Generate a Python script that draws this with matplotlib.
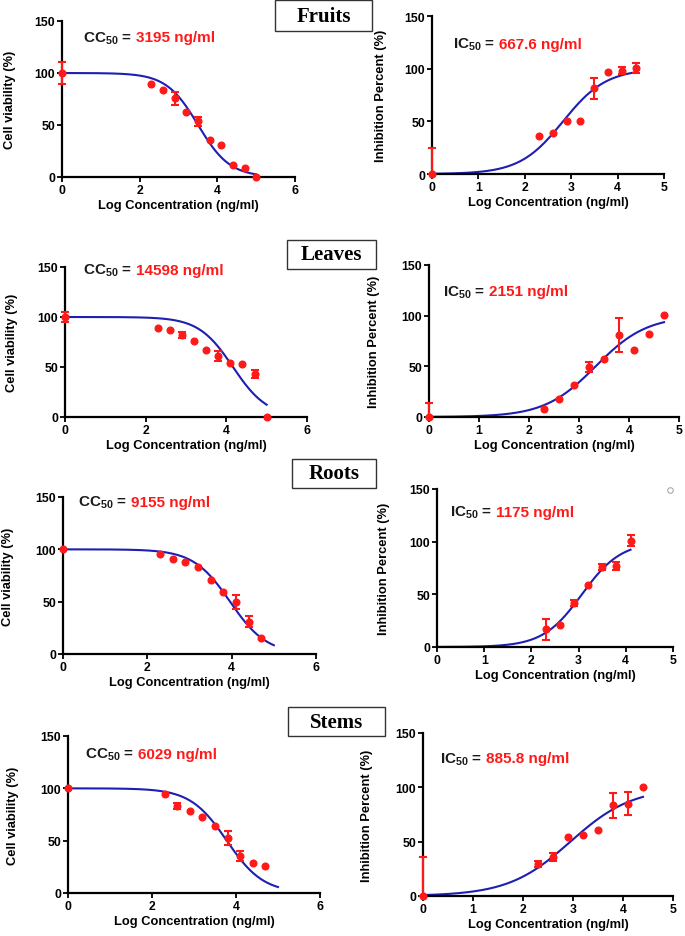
import numpy as np
import matplotlib
matplotlib.use("Agg")
import matplotlib.pyplot as plt
from matplotlib.patches import Rectangle
from matplotlib.lines import Line2D

plt.rcParams['font.family'] = ['Liberation Sans', 'DejaVu Sans']
plt.rcParams['font.weight'] = 'bold'
plt.rcParams['mathtext.fontset'] = 'custom'
plt.rcParams['mathtext.rm'] = 'Liberation Sans'
plt.rcParams['mathtext.it'] = 'Liberation Sans:italic'
plt.rcParams['mathtext.bf'] = 'Liberation Sans:bold'

# ---------------- data ----------------
log_conc = [2.3, 2.6, 2.9, 3.2, 3.5, 3.8, 4.1, 4.4, 4.7, 5.0]

# Fruits
fruits_cc_x = [0] + log_conc
fruits_cc_y = [100, 89, 84, 75.6, 62.5, 53.5, 35.6, 30.4, 11.9, 8.3, 0]
fruits_cc_err = [11, 0, 0, 6, 0, 4, 0, 0, 0, 0, 0]
fruits_cc_label = "3195 ng/ml"
fruits_cc_logc50, fruits_cc_hill = np.log10(3195), 1.06

fruits_ic_x = [0, 2.3, 2.6, 2.9, 3.2, 3.5, 3.8, 4.1, 4.4]
fruits_ic_y = [0, 35.8, 39.3, 50.4, 50.4, 81.5, 96.7, 98, 100.5]
fruits_ic_err = [25, 0, 0, 0, 0, 10, 0, 3.5, 5]
fruits_ic_label = "667.6 ng/ml"
fruits_ic_logc50, fruits_ic_hill = np.log10(667.6), 0.93

# Leaves
leaves_cc_x = [0] + log_conc
leaves_cc_y = [100, 89, 87.3, 82, 76, 67.3, 60.7, 54.3, 53, 43.3, 0]
leaves_cc_err = [5, 0, 0, 3, 0, 0, 5, 0, 0, 4, 0]
leaves_cc_label = "14598 ng/ml"
leaves_cc_logc50, leaves_cc_hill = np.log10(14598), 1.02

leaves_ic_x = [0, 2.3, 2.6, 2.9, 3.2, 3.5, 3.8, 4.1, 4.4, 4.7]
leaves_ic_y = [0, 7.9, 18.1, 31.3, 49.5, 57.4, 80.8, 66.3, 82.1, 100.6]
leaves_ic_err = [13.8, 0, 0, 0, 5, 0, 16.5, 0, 0, 0]
leaves_ic_label = "2151 ng/ml"
leaves_ic_logc50, leaves_ic_hill = np.log10(2151), 0.85

# Roots
roots_cc_x = [0, 2.3, 2.6, 2.9, 3.2, 3.5, 3.8, 4.1, 4.4, 4.7]
roots_cc_y = [100, 95.4, 90.6, 87.8, 82.7, 70.9, 59, 49.8, 31, 15.3]
roots_cc_err = [0, 0, 0, 0, 0, 0, 0, 7, 5, 0]
roots_cc_label = "9155 ng/ml"
roots_cc_logc50, roots_cc_hill = np.log10(9155), 1.0

roots_ic_x = [2.3, 2.6, 2.9, 3.2, 3.5, 3.8, 4.1]
roots_ic_y = [16.7, 21.2, 42, 58.4, 75.8, 76.7, 101]
roots_ic_err = [10, 0, 3, 0, 3, 4, 5]
roots_ic_label = "1175 ng/ml"
roots_ic_logc50, roots_ic_hill = np.log10(1175), 1.05

# Stems
stems_cc_x = [0, 2.3, 2.6, 2.9, 3.2, 3.5, 3.8, 4.1, 4.4, 4.7]
stems_cc_y = [100, 94.5, 83.4, 78, 72.3, 64.4, 52.6, 35.2, 28.5, 26]
stems_cc_err = [0, 0, 3, 0, 0, 0, 7, 5, 0, 0]
stems_cc_label = "6029 ng/ml"
stems_cc_logc50, stems_cc_hill = np.log10(6029), 1.0

stems_ic_x = [0, 2.3, 2.6, 2.9, 3.2, 3.5, 3.8, 4.1, 4.4]
stems_ic_y = [0, 29.4, 36, 53.9, 56, 60.3, 83.6, 84.8, 100.7]
stems_ic_err = [35.8, 3, 3.5, 0, 0, 0, 11.6, 10.7, 0]
stems_ic_label = "885.8 ng/ml"
stems_ic_logc50, stems_ic_hill = np.log10(885.8), 0.7

sample_names = ["Fruits", "Leaves", "Roots", "Stems"]

# ---------------- layout ----------------
W, H = 685, 937
fig = plt.figure(figsize=(W / 100, H / 100), dpi=100)

def add_ax(l, r, t, b):
    return fig.add_axes([l / W, 1 - b / H, (r - l) / W, (b - t) / H])

BLUE = '#1e1eb0'
RED = '#ff1a1a'
LABEL_FS = 9.3

def style(ax, xmax, xticks):
    ax.set_xlim(0, xmax)
    ax.set_ylim(0, 150)
    ax.set_xticks(xticks)
    ax.set_yticks([0, 50, 100, 150])
    for s in ['top', 'right']:
        ax.spines[s].set_visible(False)
    for s in ['left', 'bottom']:
        ax.spines[s].set_linewidth(1.6)
    ax.tick_params(direction='out', length=3.5, width=1.3, labelsize=8.8, pad=1.5)
    for lab in ax.get_xticklabels() + ax.get_yticklabels():
        lab.set_fontweight('bold')
    ax.set_xlabel("Log Concentration (ng/ml)", fontsize=LABEL_FS, fontweight='bold', labelpad=2)

def label(ax, prefix, value, x, y):
    t1 = ax.text(x, y, prefix + r"$_{\mathrm{50}}$ =", transform=ax.transAxes,
                 fontsize=11, fontweight='bold', color='#1a1a1a', va='baseline', ha='left')
    r = fig.canvas.get_renderer()
    bb = t1.get_window_extent(r)
    x2 = ax.transAxes.inverted().transform((bb.x1 + 4, 0))[0]
    ax.text(x2, y, value, transform=ax.transAxes, fontsize=11, fontweight='bold',
            color=RED, va='baseline', ha='left')

def plot_panel(ax, x, y, err, logc50, hill, xend, decreasing):
    xs = np.linspace(0, xend, 300)
    if decreasing:
        curve = 100 / (1 + 10 ** ((xs - logc50) * hill))
    else:
        curve = 100 / (1 + 10 ** ((logc50 - xs) * hill))
    ax.plot(xs, curve, color=BLUE, lw=1.5, zorder=2)
    y = np.array(y, float)
    err = np.array(err, float)
    lo = np.minimum(err, y)
    mask = err > 0
    x = np.array(x, float)
    ax.errorbar(x[mask], y[mask], yerr=[lo[mask], err[mask]], fmt='none',
                ecolor=RED, elinewidth=1.5, capsize=3, capthick=1.5, zorder=3,
                clip_on=False)
    ax.plot(x, y, 'o', color=RED, ms=4.8, zorder=4, clip_on=False)

panels = [
    ((62, 295, 22, 178), (432, 664, 17, 175)),
    ((65, 307, 268, 418), (429, 679, 266, 418)),
    ((63, 316, 498, 655), (437, 673, 490, 648)),
    ((68, 320, 737, 894), (423, 673, 734, 897)),
]
ylabel_x_cc = [10, 12, 8, 13]
ylabel_x_ic = [381, 374, 384, 367]

cc_data = [
    (fruits_cc_x, fruits_cc_y, fruits_cc_err, fruits_cc_logc50, fruits_cc_hill, 5.0, fruits_cc_label, (0.09, 0.87)),
    (leaves_cc_x, leaves_cc_y, leaves_cc_err, leaves_cc_logc50, leaves_cc_hill, 5.0, leaves_cc_label, (0.075, 0.955)),
    (roots_cc_x, roots_cc_y, roots_cc_err, roots_cc_logc50, roots_cc_hill, 5.0, roots_cc_label, (0.06, 0.945)),
    (stems_cc_x, stems_cc_y, stems_cc_err, stems_cc_logc50, stems_cc_hill, 5.0, stems_cc_label, (0.067, 0.86)),
]
ic_data = [
    (fruits_ic_x, fruits_ic_y, fruits_ic_err, fruits_ic_logc50, fruits_ic_hill, 4.4, fruits_ic_label, (0.09, 0.80)),
    (leaves_ic_x, leaves_ic_y, leaves_ic_err, leaves_ic_logc50, leaves_ic_hill, 4.7, leaves_ic_label, (0.056, 0.80)),
    (roots_ic_x, roots_ic_y, roots_ic_err, roots_ic_logc50, roots_ic_hill, 4.1, roots_ic_label, (0.055, 0.83)),
    (stems_ic_x, stems_ic_y, stems_ic_err, stems_ic_logc50, stems_ic_hill, 4.4, stems_ic_label, (0.068, 0.82)),
]

for i, ((rcc, ric), cc, ic) in enumerate(zip(panels, cc_data, ic_data)):
    ax = add_ax(*rcc)
    style(ax, 6, [0, 2, 4, 6])
    ax.set_ylabel("Cell viability (%)", fontsize=LABEL_FS, fontweight='bold', va='center')
    ax.yaxis.set_label_coords((ylabel_x_cc[i] - rcc[0]) / (rcc[1] - rcc[0]), 0.5)
    plot_panel(ax, cc[0], cc[1], cc[2], cc[3], cc[4], cc[5], True)
    label(ax, "CC", cc[6], *cc[7])

    ax2 = add_ax(*ric)
    style(ax2, 5, [0, 1, 2, 3, 4, 5])
    ax2.set_ylabel("Inhibition Percent (%)", fontsize=LABEL_FS, fontweight='bold', va='center')
    ax2.yaxis.set_label_coords((ylabel_x_ic[i] - ric[0]) / (ric[1] - ric[0]), 0.5)
    plot_panel(ax2, ic[0], ic[1], ic[2], ic[3], ic[4], ic[5], False)
    label(ax2, "IC", ic[6], *ic[7])

# title boxes
boxes = [(275, 372, 1, 32), (287, 376, 241, 270), (292, 376, 460, 489), (288, 385, 708, 737)]
for name, (l, r, t, b) in zip(sample_names, boxes):
    fig.patches.append(Rectangle((l / W, 1 - b / H), (r - l) / W, (b - t) / H,
                                 transform=fig.transFigure, fill=False,
                                 edgecolor='#333333', lw=1.0))
    fig.text((l + r) / 2 / W, 1 - (t + b) / 2 / H, name, ha='center', va='center',
             fontsize=15, fontweight='bold', family=['Liberation Serif', 'DejaVu Serif'])

# stray small open circle
fig.lines.append(Line2D([670 / W], [1 - 491 / H], marker='o', ms=4, mfc='none',
                        mec='#aaaaaa', mew=0.8, transform=fig.transFigure))

fig.savefig("out.png", dpi=100)
